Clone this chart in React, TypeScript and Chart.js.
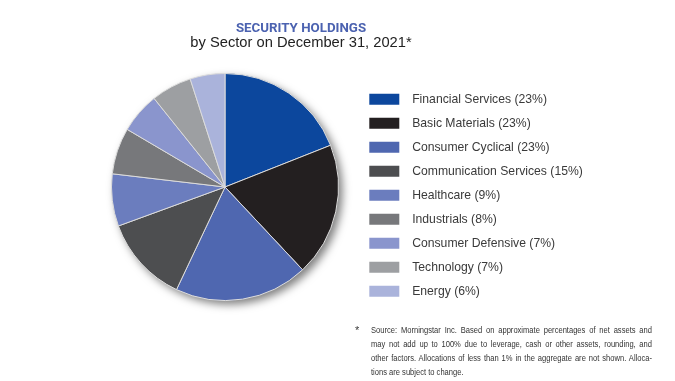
import React, { useEffect, useRef } from "react";
import { Chart, registerables } from "chart.js";

Chart.register(...registerables);

const categories = [
  "Financial Services",
  "Basic Materials",
  "Consumer Cyclical",
  "Communication Services",
  "Healthcare",
  "Industrials",
  "Consumer Defensive",
  "Technology",
  "Energy",
];
const shares = [23, 23, 23, 15, 9, 8, 7, 7, 6];
const sliceColors = [
  "#0c479d",
  "#231f20",
  "#4f67b0",
  "#4d4e50",
  "#6b7dbe",
  "#77787b",
  "#8a95cd",
  "#9d9fa2",
  "#aab3db",
];

const titleText = "SECURITY HOLDINGS";
const subtitleText = "by Sector on December 31, 2021*";
const footnoteLines = [
  "Source: Morningstar Inc. Based on approximate percentages of net assets and",
  "may not add up to 100% due to leverage, cash or other assets, rounding, and",
  "other factors. Allocations of less than 1% in the aggregate are not shown. Alloca-",
  "tions are subject to change.",
];

const W = 675;
const H = 381;
const LEGEND_FAMILY = "'Liberation Sans', Arial, sans-serif";
const LEGEND_SIZE = 12.2;

const pieShadow = {
  id: "pieShadow",
  beforeDatasetsDraw(chart: any) {
    const arc = chart.getDatasetMeta(0).data[0] as any;
    if (!arc) return;
    const ctx = chart.ctx as CanvasRenderingContext2D;
    ctx.save();
    ctx.shadowColor = "rgba(0,0,0,0.5)";
    ctx.shadowBlur = 9;
    ctx.shadowOffsetX = 4;
    ctx.shadowOffsetY = 4;
    ctx.beginPath();
    ctx.arc(arc.x, arc.y, arc.outerRadius, 0, Math.PI * 2);
    ctx.fillStyle = "#bbbbbb";
    ctx.fill();
    ctx.restore();
  },
};

export default function App() {
  const ref = useRef<HTMLCanvasElement>(null);

  useEffect(() => {
    const canvas = ref.current;
    if (!canvas) return;
    const labels = categories.map((c, i) => `  ${c} (${shares[i]}%)`);

    const m = document.createElement("canvas").getContext("2d")!;
    m.font = `normal ${LEGEND_SIZE}px ${LEGEND_FAMILY}`;
    const textW = Math.max(...labels.map((l) => m.measureText(l).width));
    const boxW = 30;
    const boxH = 11;
    const rowStep = 24;
    const pad = rowStep - Math.max(LEGEND_SIZE, boxH);
    const legendW = pad + boxW + LEGEND_SIZE / 2 + textW + 10;
    const boxX = 369.3;
    const legendLeft = boxX - pad;
    const padRight = W - legendLeft - legendW;
    const centerX = 225;
    const centerY = 187;
    const padLeft = 2 * centerX - legendLeft;
    const firstRowY = 93.1;
    const legendBottom = firstRowY + categories.length * rowStep;
    const padBottom = H - legendBottom;
    const padTop = 2 * centerY - legendBottom;

    const chart = new Chart(canvas, {
      type: "pie",
      data: {
        labels,
        datasets: [
          {
            data: shares,
            backgroundColor: sliceColors,
            borderColor: "#dcdcdc",
            borderWidth: 1,
            radius: 113.5,
          } as any,
        ],
      },
      options: {
        animation: false,
        responsive: false,
        events: [],
        layout: {
          padding: { left: padLeft, right: padRight, top: padTop, bottom: padBottom },
        },
        plugins: {
          tooltip: { enabled: false },
          title: { display: false },
          legend: {
            display: true,
            position: "right",
            align: "end",
            labels: {
              boxWidth: boxW,
              boxHeight: boxH,
              padding: pad,
              color: "#3a3a3a",
              font: { family: LEGEND_FAMILY, size: LEGEND_SIZE },
              generateLabels: (ch: any) =>
                ch.data.labels.map((t: string, i: number) => ({
                  text: t,
                  fillStyle: sliceColors[i],
                  strokeStyle: sliceColors[i],
                  lineWidth: 0,
                  hidden: false,
                  index: i,
                  fontColor: "#3a3a3a",
                })),
            },
          },
        },
      },
      plugins: [pieShadow],
    });
    return () => chart.destroy();
  }, []);

  const footScale = 0.86;

  return (
    <div
      style={{
        position: "absolute",
        left: 0,
        top: 0,
        width: W,
        height: H,
        background: "#ffffff",
        overflow: "hidden",
      }}
    >
      <canvas ref={ref} width={W} height={H} style={{ position: "absolute", left: 0, top: 0, width: W, height: H }} />
      <div
        style={{
          position: "absolute",
          left: 0,
          top: 19.6,
          width: 602,
          textAlign: "center",
          fontFamily: "Roboto, 'Liberation Sans', sans-serif",
          fontWeight: 700,
          fontSize: 13.3,
          lineHeight: "15px",
          color: "#4b62b0",
          whiteSpace: "nowrap",
        }}
      >
        {titleText}
      </div>
      <div
        style={{
          position: "absolute",
          left: 0,
          top: 33.5,
          width: 602,
          textAlign: "center",
          fontFamily: "'Liberation Sans', Arial, sans-serif",
          fontSize: 14.7,
          lineHeight: "17px",
          color: "#222222",
          whiteSpace: "nowrap",
        }}
      >
        {subtitleText}
      </div>
      <div
        style={{
          position: "absolute",
          left: 355,
          top: 323,
          fontFamily: "'Liberation Sans', Arial, sans-serif",
          fontSize: 11,
          lineHeight: "14.2px",
          color: "#3a3a3a",
        }}
      >
        *
      </div>
      <div
        style={{
          position: "absolute",
          left: 371,
          top: 322.5,
          width: 281 / footScale,
          transform: `scaleX(${footScale})`,
          transformOrigin: "0 0",
          fontFamily: "'Liberation Sans', Arial, sans-serif",
          fontSize: 8.8,
          lineHeight: "14.2px",
          color: "#333333",
        }}
      >
        {footnoteLines.map((line, i) => (
          <div
            key={i}
            style={{
              whiteSpace: "nowrap",
              textAlign: i < footnoteLines.length - 1 ? "justify" : "left",
              textAlignLast: i < footnoteLines.length - 1 ? "justify" : "left",
            }}
          >
            {line}
          </div>
        ))}
      </div>
    </div>
  );
}
